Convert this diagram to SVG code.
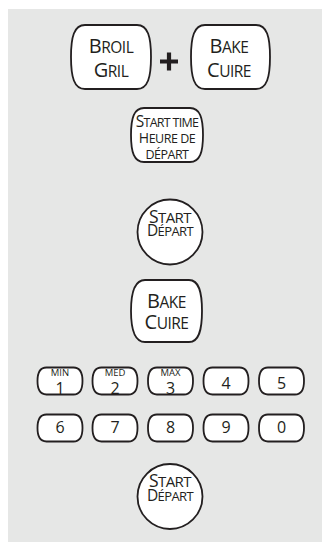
<svg xmlns="http://www.w3.org/2000/svg" width="322" height="544" viewBox="0 0 322 544">
<style>
.btn{fill:#fff;stroke:#231f20;stroke-width:1.8}
.t{font-family:"Open Sans","Noto Sans","Liberation Sans",sans-serif;fill:#231f20;text-anchor:middle}
.big{font-size:20px}
.sm{font-size:15.5px}
.d{font-size:16px}
.lbl{font-size:9.5px}
</style>
<defs>
<path id="key" d="M9,0 H36 C43,0 45,6 45,13.5 C45,21 43,27 36,27 H9 C2,27 0,21 0,13.5 C0,6 2,0 9,0 Z"/>
</defs>
<rect x="8" y="9" width="314" height="533" fill="#e6e7e6"/>
<g id="broil">
<path class="btn" d="M85,25 H137 C148,25 151,37 151,57 C151,77 148,89 137,89 H85 C74,89 71,77 71,57 C71,37 74,25 85,25 Z"/>
<text class="t" x="111" y="52.5" style="letter-spacing:-0.5px"><tspan class="big">B</tspan><tspan class="sm">ROIL</tspan></text>
<text class="t" x="111" y="76.5" style="letter-spacing:-0.5px"><tspan class="big">G</tspan><tspan class="sm">RIL</tspan></text>
</g>
<g id="plus">
<path d="M169,52.5 V70.5 M160,61.5 H178" stroke="#231f20" stroke-width="4.2" fill="none"/>
</g>
<g id="bake1">
<path class="btn" d="M205,25 H256 C267,25 270,37 270,57 C270,77 267,89 256,89 H205 C194,89 191,77 191,57 C191,37 194,25 205,25 Z"/>
<text class="t" x="229" y="52.5" style="letter-spacing:-0.5px"><tspan class="big">B</tspan><tspan class="sm">AKE</tspan></text>
<text class="t" x="229" y="76.5" style="letter-spacing:-0.5px"><tspan class="big">C</tspan><tspan class="sm">UIRE</tspan></text>
</g>
<g id="starttime">
<path class="btn" d="M144,108 H190 C200,108 203,118 203,135 C203,152 200,162 190,162 H144 C134,162 131,152 131,135 C131,118 134,108 144,108 Z"/>
<text class="t" x="167" y="127" style="letter-spacing:-0.7px"><tspan style="font-size:15.5px">S</tspan><tspan style="font-size:12.5px">TART TIME</tspan></text>
<text class="t" x="167" y="143" style="letter-spacing:-0.5px"><tspan style="font-size:14px">H</tspan><tspan style="font-size:12.5px">EURE DE</tspan></text>
<text class="t" x="167" y="158.5" style="font-size:12.5px;letter-spacing:-0.5px">DÉPART</text>
</g>
<g id="start1">
<circle class="btn" cx="170" cy="232" r="32.5"/>
<text class="t" x="170" y="222.5" style="letter-spacing:-0.6px"><tspan style="font-size:17.5px">S</tspan><tspan style="font-size:15px">TART</tspan></text>
<text class="t" x="170" y="236" style="letter-spacing:-0.6px"><tspan style="font-size:15.5px">D</tspan><tspan style="font-size:13px">ÉPART</tspan></text>
</g>
<g id="bake2">
<path class="btn" d="M145,280 H189 C199,280 202,292 202,311 C202,330 199,342 189,342 H145 C135,342 131,330 131,311 C131,292 135,280 145,280 Z"/>
<text class="t" x="166.5" y="308" style="letter-spacing:-0.5px"><tspan class="big">B</tspan><tspan class="sm">AKE</tspan></text>
<text class="t" x="166.5" y="329" style="letter-spacing:-0.5px"><tspan class="big">C</tspan><tspan class="sm">UIRE</tspan></text>
</g>
<g id="k1"><use href="#key" class="btn" x="37.5" y="367.5"/><text class="t lbl" x="60" y="376">MIN</text><text class="t d" x="60" y="393.5">1</text></g>
<g id="k2"><use href="#key" class="btn" x="92.5" y="367.5"/><text class="t lbl" x="115" y="376">MED</text><text class="t d" x="115" y="393.5">2</text></g>
<g id="k3"><use href="#key" class="btn" x="148" y="367.5"/><text class="t lbl" x="170.5" y="376">MAX</text><text class="t d" x="170.5" y="393.5">3</text></g>
<g id="k4"><use href="#key" class="btn" x="203.5" y="367.5"/><text class="t d" x="226" y="388.5">4</text></g>
<g id="k5"><use href="#key" class="btn" x="259" y="367.5"/><text class="t d" x="281.5" y="388.5">5</text></g>
<g id="k6"><use href="#key" class="btn" x="37.5" y="414.5"/><text class="t d" x="60" y="433">6</text></g>
<g id="k7"><use href="#key" class="btn" x="92.5" y="414.5"/><text class="t d" x="115" y="433">7</text></g>
<g id="k8"><use href="#key" class="btn" x="148" y="414.5"/><text class="t d" x="170.5" y="433">8</text></g>
<g id="k9"><use href="#key" class="btn" x="203.5" y="414.5"/><text class="t d" x="226" y="433">9</text></g>
<g id="k0"><use href="#key" class="btn" x="259" y="414.5"/><text class="t d" x="281.5" y="433">0</text></g>
<g id="start2">
<circle class="btn" cx="170" cy="496.5" r="32.5"/>
<text class="t" x="170" y="487" style="letter-spacing:-0.6px"><tspan style="font-size:17.5px">S</tspan><tspan style="font-size:15px">TART</tspan></text>
<text class="t" x="170" y="500.5" style="letter-spacing:-0.6px"><tspan style="font-size:15.5px">D</tspan><tspan style="font-size:13px">ÉPART</tspan></text>
</g>
<g id="connectors"/>
</svg>
